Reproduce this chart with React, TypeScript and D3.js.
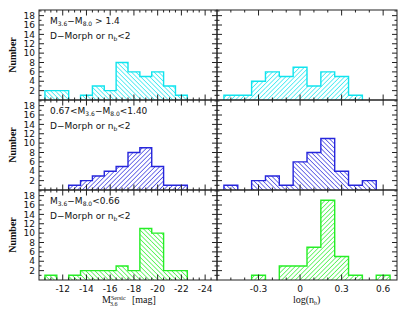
import React, { useEffect, useRef } from "react";
import * as d3 from "d3";

// bin edges (left: absolute mag, right: log Sersic index)
const magEdges = [-10.5, -11.5, -12.5, -13.5, -14.5, -15.5, -16.5, -17.5, -18.5, -19.5, -20.5, -21.5, -22.5];
const logEdges = [-0.55, -0.45, -0.35, -0.25, -0.15, -0.05, 0.05, 0.15, 0.25, 0.35, 0.45, 0.55, 0.65];

// counts per panel, top to bottom
const magRed = [2, 2, 0, 1, 3, 2, 8, 6, 5, 6, 3, 1];
const magMid = [0, 0, 1, 2, 3, 4, 5, 8, 9, 5, 1, 1];
const magBlue = [1, 0, 1, 2, 2, 2, 3, 2, 11, 10, 2, 2];
const logRed = [1, 1, 4, 6, 5, 7, 3, 6, 5, 1, 0, 0];
const logMid = [1, 0, 2, 3, 1, 6, 8, 11, 4, 1, 2, 0];
const logBlue = [0, 0, 1, 0, 3, 3, 7, 17, 5, 1, 0, 1];

const magTicks = [-12, -14, -16, -18, -20, -22, -24];
const logTicks = [-0.3, 0, 0.3, 0.6];
const yTicks = [2, 4, 6, 8, 10, 12, 14, 16, 18];

const panels = [
  { color: "#10e4ee", mag: magRed, log: logRed, hatchL: -45, hatchR: 45, line1: ["M", "3.6", "\u2212M", "8.0", " > 1.4"], pre: "" },
  { color: "#2626dc", mag: magMid, log: logMid, hatchL: 45, hatchR: -45, line1: ["M", "3.6", "\u2212M", "8.0", "<1.40"], pre: "0.67<" },
  { color: "#26ee26", mag: magBlue, log: logBlue, hatchL: -45, hatchR: 45, line1: ["M", "3.6", "\u2212M", "8.0", "<0.66"], pre: "" },
];

const App: React.FC = () => {
  const svgRef = useRef<SVGSVGElement>(null);

  useEffect(() => {
    if (!svgRef.current) return;
    const width = 407;
    const height = 315;
    const left = { x0: 39, x1: 217 };
    const right = { x0: 217, x1: 397 };
    const tops = [10, 100, 190];
    const ph = 90;
    const axisColor = "#222";
    const sans = "'DejaVu Sans', sans-serif";
    const serif = "'Liberation Serif', 'DejaVu Serif', serif";

    const svg = d3.select(svgRef.current);
    svg.selectAll("*").remove();
    svg.attr("width", width).attr("height", height).attr("viewBox", `0 0 ${width} ${height}`);

    const xMag = d3.scaleLinear().domain([-10, -25]).range([left.x0, left.x1]);
    const xLog = d3.scaleLinear().domain([-0.6, 0.7]).range([right.x0, right.x1]);

    const defs = svg.append("defs");

    const drawHist = (
      g: d3.Selection<SVGGElement, unknown, null, undefined>,
      edges: number[],
      counts: number[],
      x: d3.ScaleLinear<number, number>,
      y: d3.ScaleLinear<number, number>,
      color: string,
      patId: string,
      angle: number
    ) => {
      const pat = defs
        .append("pattern")
        .attr("id", patId)
        .attr("patternUnits", "userSpaceOnUse")
        .attr("width", 3.2)
        .attr("height", 3.2)
        .attr("patternTransform", `rotate(${angle})`);
      pat
        .append("line")
        .attr("x1", 0)
        .attr("y1", 0)
        .attr("x2", 0)
        .attr("y2", 3.2)
        .attr("stroke", color)
        .attr("stroke-width", 1.25);

      counts.forEach((c, i) => {
        if (c <= 0) return;
        g.append("rect")
          .attr("x", x(edges[i]))
          .attr("y", y(c))
          .attr("width", x(edges[i + 1]) - x(edges[i]))
          .attr("height", y(0) - y(c))
          .attr("fill", `url(#${patId})`);
      });

      // outline as steps
      let d = "";
      let prev = 0;
      counts.forEach((c, i) => {
        const xa = x(edges[i]);
        const xb = x(edges[i + 1]);
        if (c > 0) {
          if (prev === 0) d += `M${xa},${y(0)}`;
          d += `L${xa},${y(c)}L${xb},${y(c)}`;
          const next = i + 1 < counts.length ? counts[i + 1] : 0;
          if (next === 0) d += `L${xb},${y(0)}`;
        }
        prev = c;
      });
      g.append("path")
        .attr("d", d)
        .attr("fill", "none")
        .attr("stroke", color)
        .attr("stroke-width", 1.4);
    };

    panels.forEach((p, pi) => {
      const top = tops[pi];
      const y = d3.scaleLinear().domain([0, 19.2]).range([top + ph, top]);
      const g = svg.append("g");

      drawHist(g, magEdges, p.mag, xMag, y, p.color, `hl${pi}`, p.hatchL);
      drawHist(g, logEdges, p.log, xLog, y, p.color, `hr${pi}`, p.hatchR);

      // frames
      [left, right].forEach((r) => {
        g.append("rect")
          .attr("x", r.x0)
          .attr("y", top)
          .attr("width", r.x1 - r.x0)
          .attr("height", ph)
          .attr("fill", "none")
          .attr("stroke", axisColor)
          .attr("stroke-width", 1);
      });

      // y ticks
      d3.range(1, 20).forEach((v) => {
        const len = v % 2 === 0 ? 5 : 2.5;
        const yy = y(v);
        [
          [left.x0, 1],
          [left.x1, -1],
          [right.x0, 1],
          [right.x1, -1],
        ].forEach(([xx, dir]) => {
          g.append("line")
            .attr("x1", xx)
            .attr("x2", xx + dir * len)
            .attr("y1", yy)
            .attr("y2", yy)
            .attr("stroke", axisColor)
            .attr("stroke-width", 1);
        });
      });

      yTicks.forEach((v) => {
        g.append("text")
          .attr("x", 35)
          .attr("y", y(v))
          .attr("dy", "0.35em")
          .attr("text-anchor", "end")
          .attr("font-family", sans)
          .attr("font-size", 9)
          .attr("fill", "#111")
          .text(v);
      });

      // x ticks (top and bottom of each panel)
      const xt = (x: d3.ScaleLinear<number, number>, vals: number[], len: number) => {
        vals.forEach((v) => {
          const xx = x(v);
          g.append("line").attr("x1", xx).attr("x2", xx).attr("y1", top + ph).attr("y2", top + ph - len)
            .attr("stroke", axisColor).attr("stroke-width", 1);
          g.append("line").attr("x1", xx).attr("x2", xx).attr("y1", top).attr("y2", top + len)
            .attr("stroke", axisColor).attr("stroke-width", 1);
        });
      };
      xt(xMag, magTicks, 5.5);
      xt(xMag, d3.range(-10.5, -25, -0.5).filter((v) => Math.abs(v % 2) > 0.01), 2.5);
      xt(xLog, logTicks, 5.5);
      xt(xLog, d3.range(-5, 7).map((v) => v / 10).filter((v) => Math.abs((v * 10) % 3) > 0.01), 2.5);

      // y label
      g.append("text")
        .attr("transform", `translate(16,${top + ph / 2}) rotate(-90)`)
        .attr("text-anchor", "middle")
        .attr("font-family", serif)
        .attr("font-weight", "bold")
        .attr("font-size", 10)
        .attr("fill", "#111")
        .text("Number");

      // annotation
      const t1 = g.append("text")
        .attr("x", 50)
        .attr("y", top + 14)
        .attr("font-family", sans)
        .attr("font-size", 9)
        .attr("fill", "#111");
      if (p.pre) t1.append("tspan").text(p.pre);
      const [m1, s1, m2, s2, tail] = p.line1;
      t1.append("tspan").text(m1);
      t1.append("tspan").attr("dy", 2).attr("font-size", 6).text(s1);
      t1.append("tspan").attr("dy", -2).text(m2);
      t1.append("tspan").attr("dy", 2).attr("font-size", 6).text(s2);
      t1.append("tspan").attr("dy", -2).text(tail);

      const t2 = g.append("text")
        .attr("x", 50)
        .attr("y", top + 29)
        .attr("font-family", sans)
        .attr("font-size", 9)
        .attr("fill", "#111");
      t2.append("tspan").text("D\u2212Morph or n");
      t2.append("tspan").attr("dy", 2).attr("font-size", 6).text("b");
      t2.append("tspan").attr("dy", -2).text("<2");
    });

    // x tick labels
    const bottom = tops[2] + ph;
    magTicks.forEach((v) => {
      svg.append("text")
        .attr("x", xMag(v))
        .attr("y", bottom + 12)
        .attr("text-anchor", "middle")
        .attr("font-family", sans)
        .attr("font-size", 9)
        .attr("fill", "#111")
        .text(v);
    });
    logTicks.forEach((v) => {
      svg.append("text")
        .attr("x", xLog(v))
        .attr("y", bottom + 12)
        .attr("text-anchor", "middle")
        .attr("font-family", sans)
        .attr("font-size", 9)
        .attr("fill", "#111")
        .text(v === 0 ? "0" : String(v));
    });

    // axis titles
    const xl = svg.append("text")
      .attr("x", 102)
      .attr("y", bottom + 23)
      .attr("font-family", serif)
      .attr("font-size", 10)
      .attr("fill", "#111");
    xl.append("tspan").text("M");
    xl.append("tspan").attr("dy", -3).attr("font-size", 6).text("Sersic");
    xl.append("tspan").attr("x", 110).attr("dy", 6).attr("font-size", 6).text("3.6");
    xl.append("tspan").attr("x", 132).attr("dy", -3).text("[mag]");

    const rl = svg.append("text")
      .attr("x", 293)
      .attr("y", bottom + 23)
      .attr("font-family", serif)
      .attr("font-size", 10)
      .attr("fill", "#111");
    rl.append("tspan").text("log(n");
    rl.append("tspan").attr("dy", 2).attr("font-size", 6).text("b");
    rl.append("tspan").attr("dy", -2).text(")");
  }, []);

  return <svg ref={svgRef} style={{ position: "absolute", left: 0, top: 0 }} />;
};

export default App;
